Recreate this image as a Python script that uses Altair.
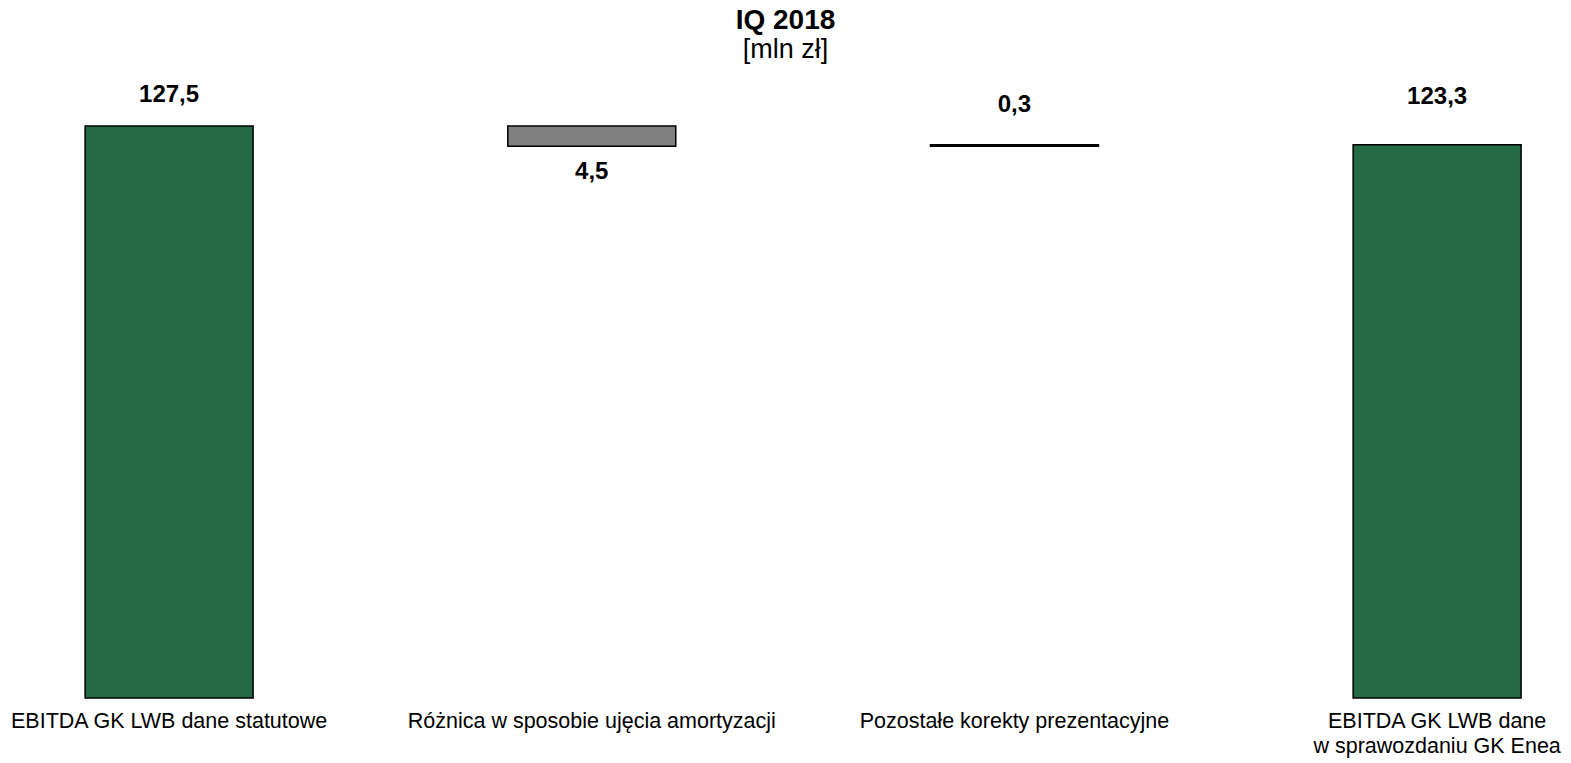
import altair as alt
import pandas as pd

# ---- data ----
categories = [
    "EBITDA GK LWB dane statutowe",
    "Różnica w sposobie ujęcia amortyzacji",
    "Pozostałe korekty prezentacyjne",
    "EBITDA GK LWB dane\nw sprawozdaniu GK Enea",
]
values = [127.5, -4.5, 0.3, 123.3]
kinds = ["total", "decrease", "increase", "total"]
value_labels = ["127,5", "4,5", "0,3", "123,3"]

# ---- waterfall geometry (computed from values) ----
starts, ends = [], []
running = 0.0
for v, k in zip(values, kinds):
    if k == "total":
        s, e = 0.0, v
        running = v
    else:
        s, e = running, running + v
        running = e
    starts.append(s)
    ends.append(e)

df = pd.DataFrame({
    "category": categories,
    "start": starts,
    "end": ends,
    "kind": kinds,
    "label": value_labels,
    "idx": list(range(len(categories))),
})
df["top"] = df[["start", "end"]].max(axis=1)
df["bottom"] = df[["start", "end"]].min(axis=1)

# ---- styling ----
FONT = "Liberation Sans"
kind_domain = ["total", "decrease", "increase"]
kind_colors = ["#246B45", "#808080", "#000000"]
label_anchor = ["top", "bottom", "top", "top"]
label_dy = [-31, 26, -40, -48]
Y_MAX = 142.66

x_scale = alt.Scale(paddingInner=0.6026, paddingOuter=0.1408, align=0.648, round=False)
x_enc = alt.X(
    "category:N",
    sort=categories,
    scale=x_scale,
    axis=alt.Axis(
        title=None, labelAngle=0, domain=False, ticks=False, tickSize=0,
        labelFont=FONT, labelFontSize=21.5, labelColor="black",
        labelPadding=12, labelLineHeight=25, labelLimit=500,
        labelExpr="split(datum.label, '\\n')",
    ),
)
y_scale = alt.Scale(domain=[0, Y_MAX], nice=False, zero=True)

bars = alt.Chart(df).mark_bar(stroke="black", strokeWidth=1.5).encode(
    x=x_enc,
    y=alt.Y("start:Q", scale=y_scale, axis=None),
    y2="end:Q",
    color=alt.Color("kind:N", scale=alt.Scale(domain=kind_domain, range=kind_colors), legend=None),
)

layers = [bars]
for i in range(len(categories)):
    t = alt.Chart(df).transform_filter(alt.datum.idx == i).mark_text(
        font=FONT, fontSize=24, fontWeight="bold", color="black",
        baseline="middle", align="center", dy=label_dy[i],
    ).encode(
        x=alt.X("category:N", sort=categories, scale=x_scale),
        y=alt.Y(f"{label_anchor[i]}:Q", scale=y_scale, axis=None),
        text="label:N",
    )
    layers.append(t)

chart = alt.layer(*layers).properties(
    width=1555,
    height=640,
    background="white",
    title=alt.TitleParams(
        text="IQ 2018", subtitle="[mln zł]",
        font=FONT, fontSize=28, fontWeight="bold", color="black",
        subtitleFont=FONT, subtitleFontSize=27, subtitleColor="black",
        subtitlePadding=2, anchor="middle", offset=-5,
    ),
    autosize=alt.AutoSizeParams(type="none"),
    padding={"left": 0, "right": 0, "top": 50, "bottom": 61},
).configure_view(strokeWidth=0, stroke="transparent")

chart.save("out.html", embed_options={"renderer": "svg", "actions": False})
